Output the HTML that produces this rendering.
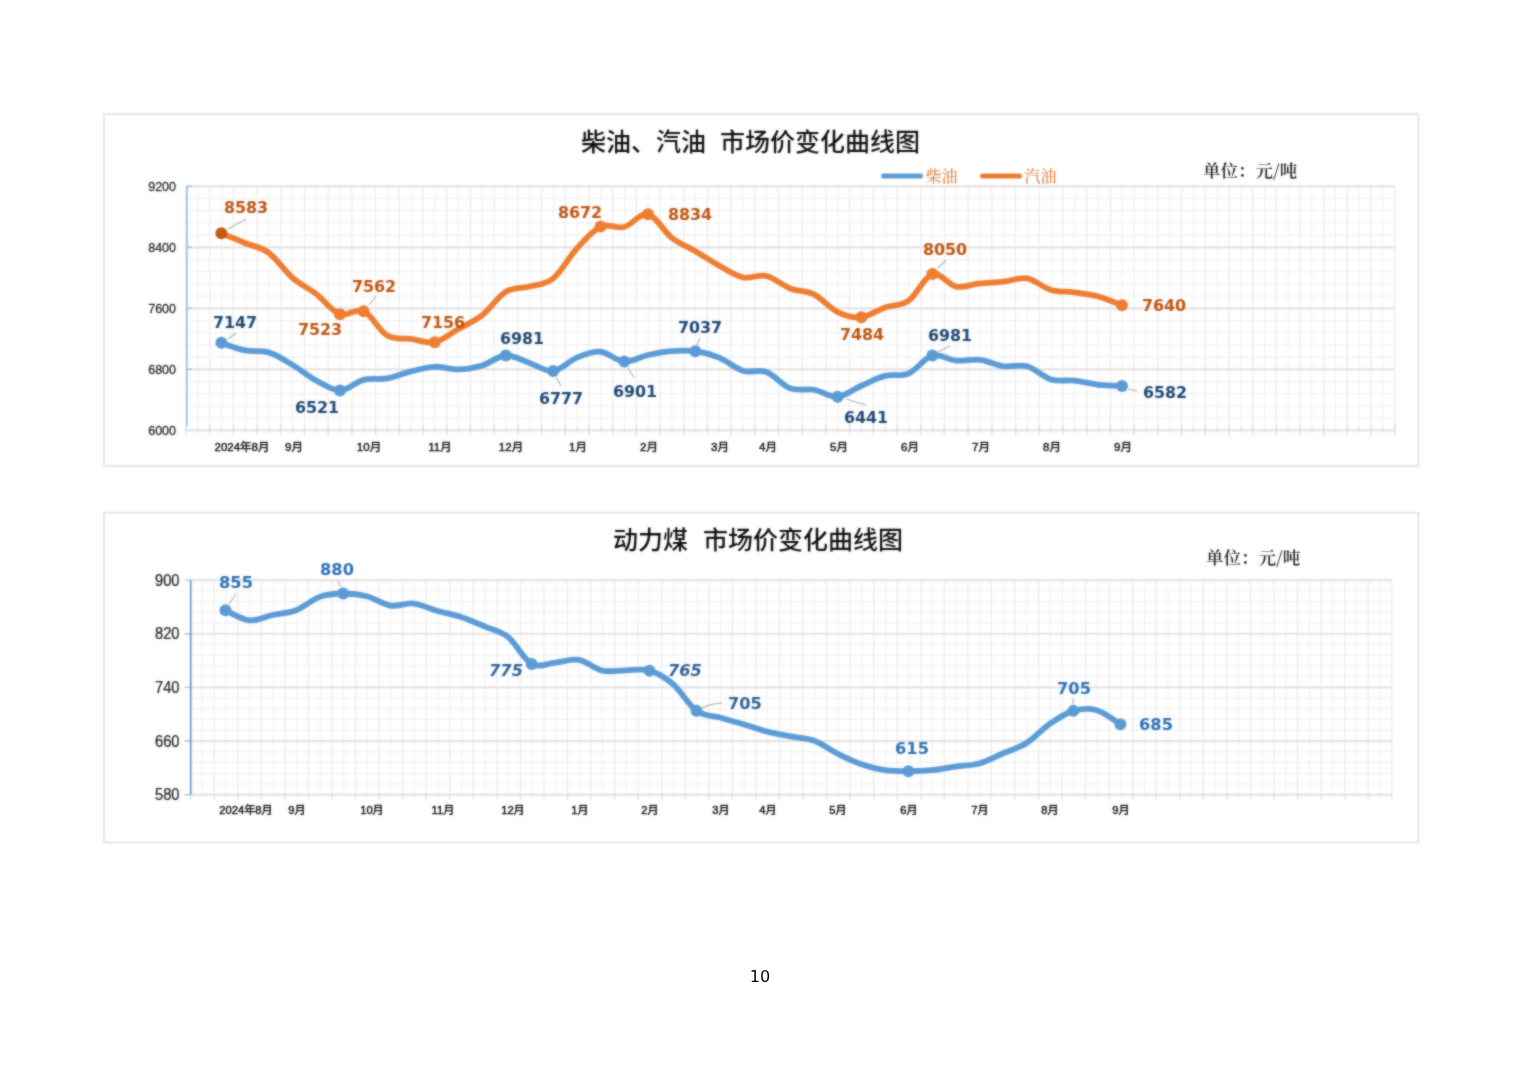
<!DOCTYPE html>
<html lang="zh-CN">
<head>
<meta charset="utf-8">
<title>市场价变化曲线图</title>
<style>
html,body{margin:0;padding:0;background:#fff;}
body{width:1520px;height:1074px;overflow:hidden;}
svg{display:block;}
</style>
</head>
<body>
<svg width="1520" height="1074" viewBox="0 0 1520 1074">
<rect width="1520" height="1074" fill="#fff"/>
<defs><filter id="soft" color-interpolation-filters="sRGB" x="-2%" y="-2%" width="104%" height="104%"><feGaussianBlur stdDeviation="0.85" result="b"/><feComposite in="SourceGraphic" in2="b" operator="arithmetic" k1="0" k2="0.4" k3="0.6" k4="0"/></filter></defs>
<g id="chart1" filter="url(#soft)">
<rect x="104.0" y="114.0" width="1314.5" height="352.0" fill="#fff" stroke="#e2e2e2" stroke-width="1.6"/>
<path d="M197.85,186.30V430.30M221.55,186.30V430.30M245.25,186.30V430.30M268.96,186.30V430.30M292.66,186.30V430.30M316.36,186.30V430.30M340.06,186.30V430.30M363.76,186.30V430.30M387.47,186.30V430.30M411.17,186.30V430.30M434.87,186.30V430.30M458.57,186.30V430.30M482.27,186.30V430.30M505.98,186.30V430.30M529.68,186.30V430.30M553.38,186.30V430.30M577.08,186.30V430.30M600.78,186.30V430.30M624.49,186.30V430.30M648.19,186.30V430.30M671.89,186.30V430.30M695.59,186.30V430.30M719.29,186.30V430.30M743.00,186.30V430.30M766.70,186.30V430.30M790.40,186.30V430.30M814.10,186.30V430.30M837.80,186.30V430.30M861.51,186.30V430.30M885.21,186.30V430.30M908.91,186.30V430.30M932.61,186.30V430.30M956.31,186.30V430.30M980.02,186.30V430.30M1003.72,186.30V430.30M1027.42,186.30V430.30M1051.12,186.30V430.30M1074.82,186.30V430.30M1098.53,186.30V430.30M1122.23,186.30V430.30M1145.93,186.30V430.30M1169.63,186.30V430.30M1193.33,186.30V430.30M1217.04,186.30V430.30M1240.74,186.30V430.30M1264.44,186.30V430.30M1288.14,186.30V430.30M1311.84,186.30V430.30M1335.55,186.30V430.30M1359.25,186.30V430.30M1382.95,186.30V430.30" stroke="#f1f1f2" stroke-width="1" fill="none"/>
<path d="M209.70,186.30V430.30M233.40,186.30V430.30M257.11,186.30V430.30M280.81,186.30V430.30M304.51,186.30V430.30M328.21,186.30V430.30M351.91,186.30V430.30M375.62,186.30V430.30M399.32,186.30V430.30M423.02,186.30V430.30M446.72,186.30V430.30M470.42,186.30V430.30M494.13,186.30V430.30M517.83,186.30V430.30M541.53,186.30V430.30M565.23,186.30V430.30M588.93,186.30V430.30M612.64,186.30V430.30M636.34,186.30V430.30M660.04,186.30V430.30M683.74,186.30V430.30M707.44,186.30V430.30M731.15,186.30V430.30M754.85,186.30V430.30M778.55,186.30V430.30M802.25,186.30V430.30M825.95,186.30V430.30M849.65,186.30V430.30M873.36,186.30V430.30M897.06,186.30V430.30M920.76,186.30V430.30M944.46,186.30V430.30M968.16,186.30V430.30M991.87,186.30V430.30M1015.57,186.30V430.30M1039.27,186.30V430.30M1062.97,186.30V430.30M1086.67,186.30V430.30M1110.38,186.30V430.30M1134.08,186.30V430.30M1157.78,186.30V430.30M1181.48,186.30V430.30M1205.18,186.30V430.30M1228.89,186.30V430.30M1252.59,186.30V430.30M1276.29,186.30V430.30M1299.99,186.30V430.30M1323.69,186.30V430.30M1347.40,186.30V430.30M1371.10,186.30V430.30M1394.80,186.30V430.30" stroke="#e9e9ea" stroke-width="1.1" fill="none"/>
<path d="M186.00,198.50H1394.80M186.00,210.70H1394.80M186.00,222.90H1394.80M186.00,235.10H1394.80M186.00,259.50H1394.80M186.00,271.70H1394.80M186.00,283.90H1394.80M186.00,296.10H1394.80M186.00,320.50H1394.80M186.00,332.70H1394.80M186.00,344.90H1394.80M186.00,357.10H1394.80M186.00,381.50H1394.80M186.00,393.70H1394.80M186.00,405.90H1394.80M186.00,418.10H1394.80" stroke="#eeeeef" stroke-width="1" fill="none"/>
<path d="M186.00,186.30H1394.80M186.00,247.30H1394.80M186.00,308.30H1394.80M186.00,369.30H1394.80M186.00,430.30H1394.80" stroke="#e3e3e4" stroke-width="2.2" fill="none"/>
<line x1="186.80" y1="186.30" x2="186.80" y2="426.30" stroke="#9cc2e5" stroke-width="2"/>
<path d="M186.00,186.30h6M186.00,247.30h6M186.00,308.30h6M186.00,369.30h6" stroke="#9cc2e5" stroke-width="1.6" fill="none"/>
<path d="M186.00,424.80V435.30M209.70,424.80V435.30M233.40,424.80V435.30M257.11,424.80V435.30M280.81,424.80V435.30M304.51,424.80V435.30M328.21,424.80V435.30M351.91,424.80V435.30M375.62,424.80V435.30M399.32,424.80V435.30M423.02,424.80V435.30M446.72,424.80V435.30M470.42,424.80V435.30M494.13,424.80V435.30M517.83,424.80V435.30M541.53,424.80V435.30M565.23,424.80V435.30M588.93,424.80V435.30M612.64,424.80V435.30M636.34,424.80V435.30M660.04,424.80V435.30M683.74,424.80V435.30M707.44,424.80V435.30M731.15,424.80V435.30M754.85,424.80V435.30M778.55,424.80V435.30M802.25,424.80V435.30M825.95,424.80V435.30M849.65,424.80V435.30M873.36,424.80V435.30M897.06,424.80V435.30M920.76,424.80V435.30M944.46,424.80V435.30M968.16,424.80V435.30M991.87,424.80V435.30M1015.57,424.80V435.30M1039.27,424.80V435.30M1062.97,424.80V435.30M1086.67,424.80V435.30M1110.38,424.80V435.30M1134.08,424.80V435.30M1157.78,424.80V435.30M1181.48,424.80V435.30M1205.18,424.80V435.30M1228.89,424.80V435.30M1252.59,424.80V435.30M1276.29,424.80V435.30M1299.99,424.80V435.30M1323.69,424.80V435.30M1347.40,424.80V435.30M1371.10,424.80V435.30M1394.80,424.80V435.30" stroke="#d9d9d9" stroke-width="1.3" fill="none"/>
<path d="M197.85,427.30V432.80M221.55,427.30V432.80M245.25,427.30V432.80M268.96,427.30V432.80M292.66,427.30V432.80M316.36,427.30V432.80M340.06,427.30V432.80M363.76,427.30V432.80M387.47,427.30V432.80M411.17,427.30V432.80M434.87,427.30V432.80M458.57,427.30V432.80M482.27,427.30V432.80M505.98,427.30V432.80M529.68,427.30V432.80M553.38,427.30V432.80M577.08,427.30V432.80M600.78,427.30V432.80M624.49,427.30V432.80M648.19,427.30V432.80M671.89,427.30V432.80M695.59,427.30V432.80M719.29,427.30V432.80M743.00,427.30V432.80M766.70,427.30V432.80M790.40,427.30V432.80M814.10,427.30V432.80M837.80,427.30V432.80M861.51,427.30V432.80M885.21,427.30V432.80M908.91,427.30V432.80M932.61,427.30V432.80M956.31,427.30V432.80M980.02,427.30V432.80M1003.72,427.30V432.80M1027.42,427.30V432.80M1051.12,427.30V432.80M1074.82,427.30V432.80M1098.53,427.30V432.80M1122.23,427.30V432.80M1145.93,427.30V432.80M1169.63,427.30V432.80M1193.33,427.30V432.80M1217.04,427.30V432.80M1240.74,427.30V432.80M1264.44,427.30V432.80M1288.14,427.30V432.80M1311.84,427.30V432.80M1335.55,427.30V432.80M1359.25,427.30V432.80M1382.95,427.30V432.80" stroke="#dedede" stroke-width="1.2" fill="none"/>
<text x="176" y="190.70" text-anchor="end" font-family='"Liberation Sans","Noto Sans CJK SC",sans-serif' font-size="12.5" fill="#262626" stroke="#262626" stroke-width="0.3">9200</text>
<text x="176" y="251.70" text-anchor="end" font-family='"Liberation Sans","Noto Sans CJK SC",sans-serif' font-size="12.5" fill="#262626" stroke="#262626" stroke-width="0.3">8400</text>
<text x="176" y="312.70" text-anchor="end" font-family='"Liberation Sans","Noto Sans CJK SC",sans-serif' font-size="12.5" fill="#262626" stroke="#262626" stroke-width="0.3">7600</text>
<text x="176" y="373.70" text-anchor="end" font-family='"Liberation Sans","Noto Sans CJK SC",sans-serif' font-size="12.5" fill="#262626" stroke="#262626" stroke-width="0.3">6800</text>
<text x="176" y="434.70" text-anchor="end" font-family='"Liberation Sans","Noto Sans CJK SC",sans-serif' font-size="12.5" fill="#262626" stroke="#262626" stroke-width="0.3">6000</text>
<text x="242.0" y="450.8" text-anchor="middle" font-family='"Liberation Sans","Noto Sans CJK SC",sans-serif' font-size="11.5" fill="#151515" stroke="#151515" stroke-width="0.45">2024年8月</text>
<text x="294.0" y="450.8" text-anchor="middle" font-family='"Liberation Sans","Noto Sans CJK SC",sans-serif' font-size="11.5" fill="#151515" stroke="#151515" stroke-width="0.45">9月</text>
<text x="369.0" y="450.8" text-anchor="middle" font-family='"Liberation Sans","Noto Sans CJK SC",sans-serif' font-size="11.5" fill="#151515" stroke="#151515" stroke-width="0.45">10月</text>
<text x="440.0" y="450.8" text-anchor="middle" font-family='"Liberation Sans","Noto Sans CJK SC",sans-serif' font-size="11.5" fill="#151515" stroke="#151515" stroke-width="0.45">11月</text>
<text x="511.0" y="450.8" text-anchor="middle" font-family='"Liberation Sans","Noto Sans CJK SC",sans-serif' font-size="11.5" fill="#151515" stroke="#151515" stroke-width="0.45">12月</text>
<text x="578.0" y="450.8" text-anchor="middle" font-family='"Liberation Sans","Noto Sans CJK SC",sans-serif' font-size="11.5" fill="#151515" stroke="#151515" stroke-width="0.45">1月</text>
<text x="649.0" y="450.8" text-anchor="middle" font-family='"Liberation Sans","Noto Sans CJK SC",sans-serif' font-size="11.5" fill="#151515" stroke="#151515" stroke-width="0.45">2月</text>
<text x="720.0" y="450.8" text-anchor="middle" font-family='"Liberation Sans","Noto Sans CJK SC",sans-serif' font-size="11.5" fill="#151515" stroke="#151515" stroke-width="0.45">3月</text>
<text x="768.0" y="450.8" text-anchor="middle" font-family='"Liberation Sans","Noto Sans CJK SC",sans-serif' font-size="11.5" fill="#151515" stroke="#151515" stroke-width="0.45">4月</text>
<text x="839.0" y="450.8" text-anchor="middle" font-family='"Liberation Sans","Noto Sans CJK SC",sans-serif' font-size="11.5" fill="#151515" stroke="#151515" stroke-width="0.45">5月</text>
<text x="910.0" y="450.8" text-anchor="middle" font-family='"Liberation Sans","Noto Sans CJK SC",sans-serif' font-size="11.5" fill="#151515" stroke="#151515" stroke-width="0.45">6月</text>
<text x="981.0" y="450.8" text-anchor="middle" font-family='"Liberation Sans","Noto Sans CJK SC",sans-serif' font-size="11.5" fill="#151515" stroke="#151515" stroke-width="0.45">7月</text>
<text x="1052.0" y="450.8" text-anchor="middle" font-family='"Liberation Sans","Noto Sans CJK SC",sans-serif' font-size="11.5" fill="#151515" stroke="#151515" stroke-width="0.45">8月</text>
<text x="1123.0" y="450.8" text-anchor="middle" font-family='"Liberation Sans","Noto Sans CJK SC",sans-serif' font-size="11.5" fill="#151515" stroke="#151515" stroke-width="0.45">9月</text>
<text x="581" y="150.5" font-family='"Noto Sans CJK SC","Liberation Sans",sans-serif' font-size="25" font-weight="500" fill="#0d0d0d">柴油、汽油</text>
<text x="720" y="150.5" font-family='"Noto Sans CJK SC","Liberation Sans",sans-serif' font-size="25" font-weight="500" fill="#0d0d0d">市场价变化曲线图</text>
<line x1="883.5" y1="176" x2="920.5" y2="176" stroke="#5b9bd5" stroke-width="5" stroke-linecap="round"/>
<text x="925.5" y="181.5" font-family='"Noto Serif CJK SC","Liberation Serif",serif' font-size="16" font-weight="500" fill="#e0823f">柴油</text>
<line x1="982.5" y1="176" x2="1019.5" y2="176" stroke="#ed7d31" stroke-width="5" stroke-linecap="round"/>
<text x="1024.5" y="181.5" font-family='"Noto Serif CJK SC","Liberation Serif",serif' font-size="16" font-weight="500" fill="#e0823f">汽油</text>
<text x="1203" y="177" font-family='"Noto Serif CJK SC","Liberation Serif",serif' font-size="17.5" font-weight="600" fill="#1a1a1a">单位：元/吨</text>
<path d="M221.40,342.84C225.35,344.10 237.20,348.80 245.10,350.39C253.00,351.98 260.90,349.96 268.80,352.37C276.70,354.79 284.60,360.19 292.50,364.88C300.40,369.57 308.30,376.23 316.20,380.51C324.10,384.79 332.00,390.68 339.90,390.57C347.80,390.47 355.70,381.92 363.60,379.90C371.50,377.88 379.40,379.87 387.30,378.45C395.20,377.03 403.10,373.30 411.00,371.36C418.90,369.41 426.80,367.10 434.70,366.78C442.60,366.47 450.50,369.67 458.40,369.45C466.30,369.24 474.20,367.81 482.10,365.49C490.00,363.16 497.90,355.93 505.80,355.50C513.70,355.07 521.60,360.30 529.50,362.89C537.40,365.49 545.30,371.93 553.20,371.05C561.10,370.18 569.00,360.85 576.90,357.63C584.80,354.42 592.70,351.10 600.60,351.76C608.50,352.42 616.40,361.06 624.30,361.60C632.20,362.13 640.10,356.72 648.00,354.97C655.90,353.21 663.80,351.70 671.70,351.08C679.60,350.45 687.50,350.14 695.40,351.23C703.30,352.32 711.20,354.38 719.10,357.63C727.00,360.89 734.90,368.35 742.80,370.75C750.70,373.15 758.60,369.11 766.50,372.05C774.40,374.98 782.30,385.41 790.20,388.36C798.10,391.31 806.00,388.35 813.90,389.74C821.80,391.12 829.70,397.33 837.60,396.67C845.50,396.01 853.40,389.23 861.30,385.77C869.20,382.31 877.10,377.98 885.00,375.93C892.90,373.89 900.80,376.90 908.70,373.49C916.60,370.09 924.50,357.65 932.40,355.50C940.30,353.35 948.20,359.90 956.10,360.61C964.00,361.32 971.90,358.83 979.80,359.77C987.70,360.71 995.60,365.17 1003.50,366.25C1011.40,367.33 1019.30,364.05 1027.20,366.25C1035.10,368.45 1043.00,377.05 1050.90,379.44C1058.80,381.83 1066.70,379.70 1074.60,380.59C1082.50,381.47 1090.40,383.89 1098.30,384.78C1106.20,385.67 1118.05,385.73 1122.00,385.92" stroke="#5b9bd5" stroke-width="5.8" fill="none" stroke-linecap="round" stroke-linejoin="round"/>
<path d="M221.40,233.35C225.35,234.95 237.20,239.71 245.10,242.95C253.00,246.19 260.90,247.00 268.80,252.79C276.70,258.58 284.60,270.85 292.50,277.72C300.40,284.60 308.30,287.97 316.20,294.04C324.10,300.12 332.00,311.31 339.90,314.17C347.80,317.03 355.70,307.63 363.60,311.20C371.50,314.77 379.40,330.98 387.30,335.60C395.20,340.21 403.10,337.78 411.00,338.88C418.90,339.97 426.80,343.79 434.70,342.15C442.60,340.52 450.50,333.51 458.40,329.04C466.30,324.57 474.20,321.54 482.10,315.31C490.00,309.09 497.90,296.48 505.80,291.68C513.70,286.87 521.60,288.70 529.50,286.49C537.40,284.28 545.30,284.75 553.20,278.41C561.10,272.07 569.00,257.09 576.90,248.44C584.80,239.80 592.70,230.14 600.60,226.56C608.50,222.98 616.40,229.00 624.30,226.94C632.20,224.88 640.10,212.40 648.00,214.21C655.90,216.01 663.80,231.61 671.70,237.77C679.60,243.93 687.50,246.55 695.40,251.19C703.30,255.83 711.20,261.24 719.10,265.60C727.00,269.96 734.90,275.61 742.80,277.34C750.70,279.07 758.60,274.11 766.50,275.97C774.40,277.83 782.30,285.41 790.20,288.48C798.10,291.54 806.00,290.42 813.90,294.35C821.80,298.27 829.70,308.24 837.60,312.04C845.50,315.84 853.40,317.91 861.30,317.14C869.20,316.38 877.10,310.21 885.00,307.46C892.90,304.72 900.80,306.25 908.70,300.68C916.60,295.10 924.50,276.33 932.40,273.99C940.30,271.65 948.20,285.08 956.10,286.64C964.00,288.21 971.90,284.19 979.80,283.37C987.70,282.54 995.60,282.51 1003.50,281.69C1011.40,280.86 1019.30,277.04 1027.20,278.41C1035.10,279.78 1043.00,287.60 1050.90,289.92C1058.80,292.25 1066.70,291.27 1074.60,292.36C1082.50,293.46 1090.40,294.33 1098.30,296.48C1106.20,298.63 1118.05,303.79 1122.00,305.25" stroke="#ed7d31" stroke-width="5.8" fill="none" stroke-linecap="round" stroke-linejoin="round"/>
<line x1="228.0" y1="339.0" x2="236.0" y2="333.0" stroke="#b0b0b0" stroke-width="1.1"/>
<circle cx="221.40" cy="342.84" r="6" fill="#5b9bd5"/>
<circle cx="339.90" cy="390.57" r="6" fill="#5b9bd5"/>
<circle cx="505.80" cy="355.50" r="6" fill="#5b9bd5"/>
<line x1="556.0" y1="377.0" x2="561.0" y2="386.0" stroke="#b0b0b0" stroke-width="1.1"/>
<circle cx="553.20" cy="371.05" r="6" fill="#5b9bd5"/>
<line x1="628.0" y1="368.0" x2="634.0" y2="378.0" stroke="#b0b0b0" stroke-width="1.1"/>
<circle cx="624.30" cy="361.60" r="6" fill="#5b9bd5"/>
<line x1="697.0" y1="345.0" x2="700.0" y2="338.0" stroke="#b0b0b0" stroke-width="1.1"/>
<circle cx="695.40" cy="351.23" r="6" fill="#5b9bd5"/>
<line x1="846.0" y1="399.0" x2="866.0" y2="405.0" stroke="#b0b0b0" stroke-width="1.1"/>
<circle cx="837.60" cy="396.67" r="6" fill="#5b9bd5"/>
<line x1="938.0" y1="352.0" x2="950.0" y2="346.0" stroke="#b0b0b0" stroke-width="1.1"/>
<circle cx="932.40" cy="355.50" r="6" fill="#5b9bd5"/>
<line x1="1128.0" y1="389.0" x2="1137.0" y2="391.0" stroke="#b0b0b0" stroke-width="1.1"/>
<circle cx="1122.00" cy="385.92" r="6" fill="#5b9bd5"/>
<line x1="228.0" y1="229.0" x2="246.0" y2="219.0" stroke="#b0b0b0" stroke-width="1.1"/>
<circle cx="221.40" cy="233.35" r="6" fill="#c55a11"/>
<circle cx="339.90" cy="314.17" r="6" fill="#ed7d31"/>
<line x1="369.0" y1="305.0" x2="376.0" y2="296.0" stroke="#b0b0b0" stroke-width="1.1"/>
<circle cx="363.60" cy="311.20" r="6" fill="#ed7d31"/>
<circle cx="434.70" cy="342.15" r="6" fill="#ed7d31"/>
<circle cx="600.60" cy="226.56" r="6" fill="#ed7d31"/>
<circle cx="648.00" cy="214.21" r="6" fill="#ed7d31"/>
<circle cx="861.30" cy="317.14" r="6" fill="#ed7d31"/>
<line x1="938.0" y1="268.0" x2="946.0" y2="260.0" stroke="#b0b0b0" stroke-width="1.1"/>
<circle cx="932.40" cy="273.99" r="6" fill="#ed7d31"/>
<circle cx="1122.00" cy="305.25" r="6" fill="#ed7d31"/>
<text transform="translate(235.0,327.9) scale(0.970,1)" text-anchor="middle" font-family='"DejaVu Sans","Liberation Sans",sans-serif' font-weight="bold" font-size="16.4" fill="#1b4670">7147</text>
<text transform="translate(317.0,412.9) scale(0.970,1)" text-anchor="middle" font-family='"DejaVu Sans","Liberation Sans",sans-serif' font-weight="bold" font-size="16.4" fill="#1b4670">6521</text>
<text transform="translate(522.0,343.9) scale(0.970,1)" text-anchor="middle" font-family='"DejaVu Sans","Liberation Sans",sans-serif' font-weight="bold" font-size="16.4" fill="#1b4670">6981</text>
<text transform="translate(561.0,403.9) scale(0.970,1)" text-anchor="middle" font-family='"DejaVu Sans","Liberation Sans",sans-serif' font-weight="bold" font-size="16.4" fill="#1b4670">6777</text>
<text transform="translate(635.0,396.9) scale(0.970,1)" text-anchor="middle" font-family='"DejaVu Sans","Liberation Sans",sans-serif' font-weight="bold" font-size="16.4" fill="#1b4670">6901</text>
<text transform="translate(700.0,332.9) scale(0.970,1)" text-anchor="middle" font-family='"DejaVu Sans","Liberation Sans",sans-serif' font-weight="bold" font-size="16.4" fill="#1b4670">7037</text>
<text transform="translate(866.0,422.9) scale(0.970,1)" text-anchor="middle" font-family='"DejaVu Sans","Liberation Sans",sans-serif' font-weight="bold" font-size="16.4" fill="#1b4670">6441</text>
<text transform="translate(950.0,340.9) scale(0.970,1)" text-anchor="middle" font-family='"DejaVu Sans","Liberation Sans",sans-serif' font-weight="bold" font-size="16.4" fill="#1b4670">6981</text>
<text transform="translate(1165.0,397.9) scale(0.970,1)" text-anchor="middle" font-family='"DejaVu Sans","Liberation Sans",sans-serif' font-weight="bold" font-size="16.4" fill="#1b4670">6582</text>
<text transform="translate(246.0,212.9) scale(0.970,1)" text-anchor="middle" font-family='"DejaVu Sans","Liberation Sans",sans-serif' font-weight="bold" font-size="16.4" fill="#bd540e">8583</text>
<text transform="translate(320.0,334.9) scale(0.970,1)" text-anchor="middle" font-family='"DejaVu Sans","Liberation Sans",sans-serif' font-weight="bold" font-size="16.4" fill="#bd540e">7523</text>
<text transform="translate(374.0,291.9) scale(0.970,1)" text-anchor="middle" font-family='"DejaVu Sans","Liberation Sans",sans-serif' font-weight="bold" font-size="16.4" fill="#bd540e">7562</text>
<text transform="translate(443.0,327.9) scale(0.970,1)" text-anchor="middle" font-family='"DejaVu Sans","Liberation Sans",sans-serif' font-weight="bold" font-size="16.4" fill="#bd540e">7156</text>
<text transform="translate(580.0,217.9) scale(0.970,1)" text-anchor="middle" font-family='"DejaVu Sans","Liberation Sans",sans-serif' font-weight="bold" font-size="16.4" fill="#bd540e">8672</text>
<text transform="translate(690.0,219.9) scale(0.970,1)" text-anchor="middle" font-family='"DejaVu Sans","Liberation Sans",sans-serif' font-weight="bold" font-size="16.4" fill="#bd540e">8834</text>
<text transform="translate(862.0,339.9) scale(0.970,1)" text-anchor="middle" font-family='"DejaVu Sans","Liberation Sans",sans-serif' font-weight="bold" font-size="16.4" fill="#bd540e">7484</text>
<text transform="translate(945.0,254.9) scale(0.970,1)" text-anchor="middle" font-family='"DejaVu Sans","Liberation Sans",sans-serif' font-weight="bold" font-size="16.4" fill="#bd540e">8050</text>
<text transform="translate(1164.0,310.9) scale(0.970,1)" text-anchor="middle" font-family='"DejaVu Sans","Liberation Sans",sans-serif' font-weight="bold" font-size="16.4" fill="#bd540e">7640</text>
</g>
<g id="chart2" filter="url(#soft)">
<rect x="104.0" y="512.6" width="1314.5" height="329.8" fill="#fff" stroke="#e2e2e2" stroke-width="1.6"/>
<path d="M202.48,580.10V794.70M226.03,580.10V794.70M249.58,580.10V794.70M273.13,580.10V794.70M296.68,580.10V794.70M320.23,580.10V794.70M343.78,580.10V794.70M367.33,580.10V794.70M390.88,580.10V794.70M414.43,580.10V794.70M437.99,580.10V794.70M461.54,580.10V794.70M485.09,580.10V794.70M508.64,580.10V794.70M532.19,580.10V794.70M555.74,580.10V794.70M579.29,580.10V794.70M602.84,580.10V794.70M626.39,580.10V794.70M649.94,580.10V794.70M673.50,580.10V794.70M697.05,580.10V794.70M720.60,580.10V794.70M744.15,580.10V794.70M767.70,580.10V794.70M791.25,580.10V794.70M814.80,580.10V794.70M838.35,580.10V794.70M861.90,580.10V794.70M885.45,580.10V794.70M909.00,580.10V794.70M932.56,580.10V794.70M956.11,580.10V794.70M979.66,580.10V794.70M1003.21,580.10V794.70M1026.76,580.10V794.70M1050.31,580.10V794.70M1073.86,580.10V794.70M1097.41,580.10V794.70M1120.96,580.10V794.70M1144.51,580.10V794.70M1168.07,580.10V794.70M1191.62,580.10V794.70M1215.17,580.10V794.70M1238.72,580.10V794.70M1262.27,580.10V794.70M1285.82,580.10V794.70M1309.37,580.10V794.70M1332.92,580.10V794.70M1356.47,580.10V794.70M1380.02,580.10V794.70" stroke="#f1f1f2" stroke-width="1" fill="none"/>
<path d="M214.25,580.10V794.70M237.80,580.10V794.70M261.35,580.10V794.70M284.90,580.10V794.70M308.45,580.10V794.70M332.01,580.10V794.70M355.56,580.10V794.70M379.11,580.10V794.70M402.66,580.10V794.70M426.21,580.10V794.70M449.76,580.10V794.70M473.31,580.10V794.70M496.86,580.10V794.70M520.41,580.10V794.70M543.96,580.10V794.70M567.52,580.10V794.70M591.07,580.10V794.70M614.62,580.10V794.70M638.17,580.10V794.70M661.72,580.10V794.70M685.27,580.10V794.70M708.82,580.10V794.70M732.37,580.10V794.70M755.92,580.10V794.70M779.47,580.10V794.70M803.03,580.10V794.70M826.58,580.10V794.70M850.13,580.10V794.70M873.68,580.10V794.70M897.23,580.10V794.70M920.78,580.10V794.70M944.33,580.10V794.70M967.88,580.10V794.70M991.43,580.10V794.70M1014.98,580.10V794.70M1038.54,580.10V794.70M1062.09,580.10V794.70M1085.64,580.10V794.70M1109.19,580.10V794.70M1132.74,580.10V794.70M1156.29,580.10V794.70M1179.84,580.10V794.70M1203.39,580.10V794.70M1226.94,580.10V794.70M1250.49,580.10V794.70M1274.05,580.10V794.70M1297.60,580.10V794.70M1321.15,580.10V794.70M1344.70,580.10V794.70M1368.25,580.10V794.70M1391.80,580.10V794.70" stroke="#e9e9ea" stroke-width="1.1" fill="none"/>
<path d="M190.70,590.83H1391.80M190.70,601.56H1391.80M190.70,612.29H1391.80M190.70,623.02H1391.80M190.70,644.48H1391.80M190.70,655.21H1391.80M190.70,665.94H1391.80M190.70,676.67H1391.80M190.70,698.13H1391.80M190.70,708.86H1391.80M190.70,719.59H1391.80M190.70,730.32H1391.80M190.70,751.78H1391.80M190.70,762.51H1391.80M190.70,773.24H1391.80M190.70,783.97H1391.80" stroke="#eeeeef" stroke-width="1" fill="none"/>
<path d="M190.70,580.10H1391.80M190.70,633.75H1391.80M190.70,687.40H1391.80M190.70,741.05H1391.80M190.70,794.70H1391.80" stroke="#e3e3e4" stroke-width="2.2" fill="none"/>
<path d="M190.70,794.70v4.8M214.25,794.70v4.8M237.80,794.70v4.8M261.35,794.70v4.8M284.90,794.70v4.8M308.45,794.70v4.8M332.01,794.70v4.8M355.56,794.70v4.8M379.11,794.70v4.8M402.66,794.70v4.8M426.21,794.70v4.8M449.76,794.70v4.8M473.31,794.70v4.8M496.86,794.70v4.8M520.41,794.70v4.8M543.96,794.70v4.8M567.52,794.70v4.8M591.07,794.70v4.8M614.62,794.70v4.8M638.17,794.70v4.8M661.72,794.70v4.8M685.27,794.70v4.8M708.82,794.70v4.8M732.37,794.70v4.8M755.92,794.70v4.8M779.47,794.70v4.8M803.03,794.70v4.8M826.58,794.70v4.8M850.13,794.70v4.8M873.68,794.70v4.8M897.23,794.70v4.8M920.78,794.70v4.8M944.33,794.70v4.8M967.88,794.70v4.8M991.43,794.70v4.8M1014.98,794.70v4.8M1038.54,794.70v4.8M1062.09,794.70v4.8M1085.64,794.70v4.8M1109.19,794.70v4.8M1132.74,794.70v4.8M1156.29,794.70v4.8M1179.84,794.70v4.8M1203.39,794.70v4.8M1226.94,794.70v4.8M1250.49,794.70v4.8M1274.05,794.70v4.8M1297.60,794.70v4.8M1321.15,794.70v4.8M1344.70,794.70v4.8M1368.25,794.70v4.8M1391.80,794.70v4.8" stroke="#dcdcdc" stroke-width="1.3" fill="none"/>
<path d="M202.48,794.70v2.6M226.03,794.70v2.6M249.58,794.70v2.6M273.13,794.70v2.6M296.68,794.70v2.6M320.23,794.70v2.6M343.78,794.70v2.6M367.33,794.70v2.6M390.88,794.70v2.6M414.43,794.70v2.6M437.99,794.70v2.6M461.54,794.70v2.6M485.09,794.70v2.6M508.64,794.70v2.6M532.19,794.70v2.6M555.74,794.70v2.6M579.29,794.70v2.6M602.84,794.70v2.6M626.39,794.70v2.6M649.94,794.70v2.6M673.50,794.70v2.6M697.05,794.70v2.6M720.60,794.70v2.6M744.15,794.70v2.6M767.70,794.70v2.6M791.25,794.70v2.6M814.80,794.70v2.6M838.35,794.70v2.6M861.90,794.70v2.6M885.45,794.70v2.6M909.00,794.70v2.6M932.56,794.70v2.6M956.11,794.70v2.6M979.66,794.70v2.6M1003.21,794.70v2.6M1026.76,794.70v2.6M1050.31,794.70v2.6M1073.86,794.70v2.6M1097.41,794.70v2.6M1120.96,794.70v2.6M1144.51,794.70v2.6M1168.07,794.70v2.6M1191.62,794.70v2.6M1215.17,794.70v2.6M1238.72,794.70v2.6M1262.27,794.70v2.6M1285.82,794.70v2.6M1309.37,794.70v2.6M1332.92,794.70v2.6M1356.47,794.70v2.6M1380.02,794.70v2.6" stroke="#e9e9e9" stroke-width="1.1" fill="none"/>
<path d="M190.70,580.10h-6.2M190.70,633.75h-6.2M190.70,687.40h-6.2M190.70,741.05h-6.2M190.70,794.70h-6.2" stroke="#bfbfbf" stroke-width="1.4" fill="none"/>
<line x1="190.70" y1="580.10" x2="190.70" y2="794.70" stroke="#5a96d3" stroke-width="1.7"/>
<text transform="translate(179.5,585.60) scale(0.93,1)" text-anchor="end" font-family='"Liberation Sans","Noto Sans CJK SC",sans-serif' font-size="15.8" fill="#1e1e1e" stroke="#1e1e1e" stroke-width="0.25">900</text>
<text transform="translate(179.5,639.25) scale(0.93,1)" text-anchor="end" font-family='"Liberation Sans","Noto Sans CJK SC",sans-serif' font-size="15.8" fill="#1e1e1e" stroke="#1e1e1e" stroke-width="0.25">820</text>
<text transform="translate(179.5,692.90) scale(0.93,1)" text-anchor="end" font-family='"Liberation Sans","Noto Sans CJK SC",sans-serif' font-size="15.8" fill="#1e1e1e" stroke="#1e1e1e" stroke-width="0.25">740</text>
<text transform="translate(179.5,746.55) scale(0.93,1)" text-anchor="end" font-family='"Liberation Sans","Noto Sans CJK SC",sans-serif' font-size="15.8" fill="#1e1e1e" stroke="#1e1e1e" stroke-width="0.25">660</text>
<text transform="translate(179.5,800.20) scale(0.93,1)" text-anchor="end" font-family='"Liberation Sans","Noto Sans CJK SC",sans-serif' font-size="15.8" fill="#1e1e1e" stroke="#1e1e1e" stroke-width="0.25">580</text>
<text x="246.0" y="814.4" text-anchor="middle" font-family='"Liberation Sans","Noto Sans CJK SC",sans-serif' font-size="11.2" fill="#151515" stroke="#151515" stroke-width="0.45">2024年8月</text>
<text x="297.0" y="814.4" text-anchor="middle" font-family='"Liberation Sans","Noto Sans CJK SC",sans-serif' font-size="11.2" fill="#151515" stroke="#151515" stroke-width="0.45">9月</text>
<text x="372.0" y="814.4" text-anchor="middle" font-family='"Liberation Sans","Noto Sans CJK SC",sans-serif' font-size="11.2" fill="#151515" stroke="#151515" stroke-width="0.45">10月</text>
<text x="443.0" y="814.4" text-anchor="middle" font-family='"Liberation Sans","Noto Sans CJK SC",sans-serif' font-size="11.2" fill="#151515" stroke="#151515" stroke-width="0.45">11月</text>
<text x="513.0" y="814.4" text-anchor="middle" font-family='"Liberation Sans","Noto Sans CJK SC",sans-serif' font-size="11.2" fill="#151515" stroke="#151515" stroke-width="0.45">12月</text>
<text x="580.0" y="814.4" text-anchor="middle" font-family='"Liberation Sans","Noto Sans CJK SC",sans-serif' font-size="11.2" fill="#151515" stroke="#151515" stroke-width="0.45">1月</text>
<text x="650.0" y="814.4" text-anchor="middle" font-family='"Liberation Sans","Noto Sans CJK SC",sans-serif' font-size="11.2" fill="#151515" stroke="#151515" stroke-width="0.45">2月</text>
<text x="721.0" y="814.4" text-anchor="middle" font-family='"Liberation Sans","Noto Sans CJK SC",sans-serif' font-size="11.2" fill="#151515" stroke="#151515" stroke-width="0.45">3月</text>
<text x="768.0" y="814.4" text-anchor="middle" font-family='"Liberation Sans","Noto Sans CJK SC",sans-serif' font-size="11.2" fill="#151515" stroke="#151515" stroke-width="0.45">4月</text>
<text x="838.0" y="814.4" text-anchor="middle" font-family='"Liberation Sans","Noto Sans CJK SC",sans-serif' font-size="11.2" fill="#151515" stroke="#151515" stroke-width="0.45">5月</text>
<text x="909.0" y="814.4" text-anchor="middle" font-family='"Liberation Sans","Noto Sans CJK SC",sans-serif' font-size="11.2" fill="#151515" stroke="#151515" stroke-width="0.45">6月</text>
<text x="980.0" y="814.4" text-anchor="middle" font-family='"Liberation Sans","Noto Sans CJK SC",sans-serif' font-size="11.2" fill="#151515" stroke="#151515" stroke-width="0.45">7月</text>
<text x="1050.0" y="814.4" text-anchor="middle" font-family='"Liberation Sans","Noto Sans CJK SC",sans-serif' font-size="11.2" fill="#151515" stroke="#151515" stroke-width="0.45">8月</text>
<text x="1121.0" y="814.4" text-anchor="middle" font-family='"Liberation Sans","Noto Sans CJK SC",sans-serif' font-size="11.2" fill="#151515" stroke="#151515" stroke-width="0.45">9月</text>
<text x="613" y="549" font-family='"Noto Sans CJK SC","Liberation Sans",sans-serif' font-size="25" font-weight="500" fill="#0d0d0d">动力煤</text>
<text x="703" y="549" font-family='"Noto Sans CJK SC","Liberation Sans",sans-serif' font-size="25" font-weight="500" fill="#0d0d0d">市场价变化曲线图</text>
<text x="1206" y="564" font-family='"Noto Serif CJK SC","Liberation Serif",serif' font-size="17.5" font-weight="600" fill="#1a1a1a">单位：元/吨</text>
<path d="M225.50,610.28C229.43,611.95 241.20,619.56 249.05,620.34C256.90,621.12 264.75,616.65 272.60,614.97C280.45,613.30 288.30,613.30 296.15,610.28C304.00,607.26 311.85,599.66 319.70,596.87C327.55,594.07 335.40,593.62 343.25,593.51C351.10,593.40 358.95,594.18 366.80,596.20C374.65,598.21 382.50,604.35 390.35,605.58C398.20,606.81 406.05,602.68 413.90,603.57C421.75,604.47 429.60,608.71 437.45,610.95C445.30,613.18 453.15,614.41 461.00,616.98C468.85,619.56 476.70,623.02 484.55,626.37C492.40,629.73 500.25,630.84 508.10,637.10C515.95,643.36 523.80,659.68 531.65,663.93C539.50,668.18 547.35,663.26 555.20,662.59C563.05,661.92 570.90,658.56 578.75,659.90C586.60,661.25 594.45,668.90 602.30,670.63C610.15,672.37 618.00,670.30 625.85,670.30C633.70,670.30 641.55,668.34 649.40,670.63C657.25,672.93 665.10,677.34 672.95,684.05C680.80,690.75 688.65,705.28 696.50,710.87C704.35,716.46 712.20,715.34 720.05,717.58C727.90,719.81 735.75,721.94 743.60,724.28C751.45,726.63 759.30,729.65 767.15,731.66C775.00,733.67 782.85,734.85 790.70,736.36C798.55,737.86 806.40,737.81 814.25,740.71C822.10,743.62 829.95,749.88 837.80,753.79C845.65,757.70 853.50,761.46 861.35,764.19C869.20,766.91 877.05,768.98 884.90,770.16C892.75,771.33 900.60,771.22 908.45,771.23C916.30,771.24 924.15,771.00 932.00,770.22C939.85,769.44 947.70,767.65 955.55,766.53C963.40,765.42 971.25,765.70 979.10,763.52C986.95,761.34 994.80,756.82 1002.65,753.46C1010.50,750.09 1018.35,748.25 1026.20,743.33C1034.05,738.41 1041.90,729.36 1049.75,723.95C1057.60,718.54 1065.45,713.16 1073.30,710.87C1081.15,708.58 1089.00,707.97 1096.85,710.20C1104.70,712.44 1116.48,721.94 1120.40,724.28" stroke="#5b9bd5" stroke-width="5.8" fill="none" stroke-linecap="round" stroke-linejoin="round"/>
<line x1="229.0" y1="604.0" x2="236.0" y2="594.0" stroke="#b0b0b0" stroke-width="1.1"/>
<circle cx="225.50" cy="610.28" r="6" fill="#5b9bd5"/>
<line x1="341.0" y1="587.0" x2="338.0" y2="581.0" stroke="#b0b0b0" stroke-width="1.1"/>
<circle cx="343.25" cy="593.51" r="6" fill="#5b9bd5"/>
<circle cx="531.65" cy="663.93" r="6" fill="#5b9bd5"/>
<circle cx="649.40" cy="670.63" r="6" fill="#5b9bd5"/>
<path d="M701.5,708 Q711,703.6 722,702.8" stroke="#c4aaa2" stroke-width="1.2" fill="none"/>
<circle cx="696.50" cy="710.87" r="6" fill="#5b9bd5"/>
<circle cx="908.45" cy="771.23" r="6" fill="#5b9bd5"/>
<line x1="1073.0" y1="704.0" x2="1073.0" y2="699.0" stroke="#b0b0b0" stroke-width="1.1"/>
<circle cx="1073.30" cy="710.87" r="6" fill="#5b9bd5"/>
<circle cx="1120.40" cy="724.28" r="6" fill="#5b9bd5"/>
<text transform="translate(236.0,588.3) scale(1.000,1)" text-anchor="middle" font-family='"DejaVu Sans","Liberation Sans",sans-serif' font-weight="bold" font-size="16.2" fill="#2a70b2">855</text>
<text transform="translate(337.0,575.3) scale(1.000,1)" text-anchor="middle" font-family='"DejaVu Sans","Liberation Sans",sans-serif' font-weight="bold" font-size="16.2" fill="#2a70b2">880</text>
<text transform="translate(506.0,676.3) scale(1.000,1)" text-anchor="middle" font-family='"DejaVu Sans","Liberation Sans",sans-serif' font-weight="bold" font-style="italic" font-size="16.2" fill="#2c6093">775</text>
<text transform="translate(684.8,675.9) scale(1.000,1)" text-anchor="middle" font-family='"DejaVu Sans","Liberation Sans",sans-serif' font-weight="bold" font-style="italic" font-size="16.2" fill="#2c6093">765</text>
<text transform="translate(744.8,708.5) scale(1.000,1)" text-anchor="middle" font-family='"DejaVu Sans","Liberation Sans",sans-serif' font-weight="bold" font-size="16.2" fill="#2c6093">705</text>
<text transform="translate(912.0,754.3) scale(1.000,1)" text-anchor="middle" font-family='"DejaVu Sans","Liberation Sans",sans-serif' font-weight="bold" font-size="16.2" fill="#2a70b2">615</text>
<text transform="translate(1074.0,694.3) scale(1.000,1)" text-anchor="middle" font-family='"DejaVu Sans","Liberation Sans",sans-serif' font-weight="bold" font-size="16.2" fill="#2a70b2">705</text>
<text transform="translate(1156.0,730.3) scale(1.000,1)" text-anchor="middle" font-family='"DejaVu Sans","Liberation Sans",sans-serif' font-weight="bold" font-size="16.2" fill="#2a70b2">685</text>
</g>
<text x="760" y="982" text-anchor="middle" font-family='"DejaVu Sans","Liberation Sans",sans-serif' font-size="16" fill="#000">10</text>
</svg>
</body>
</html>
